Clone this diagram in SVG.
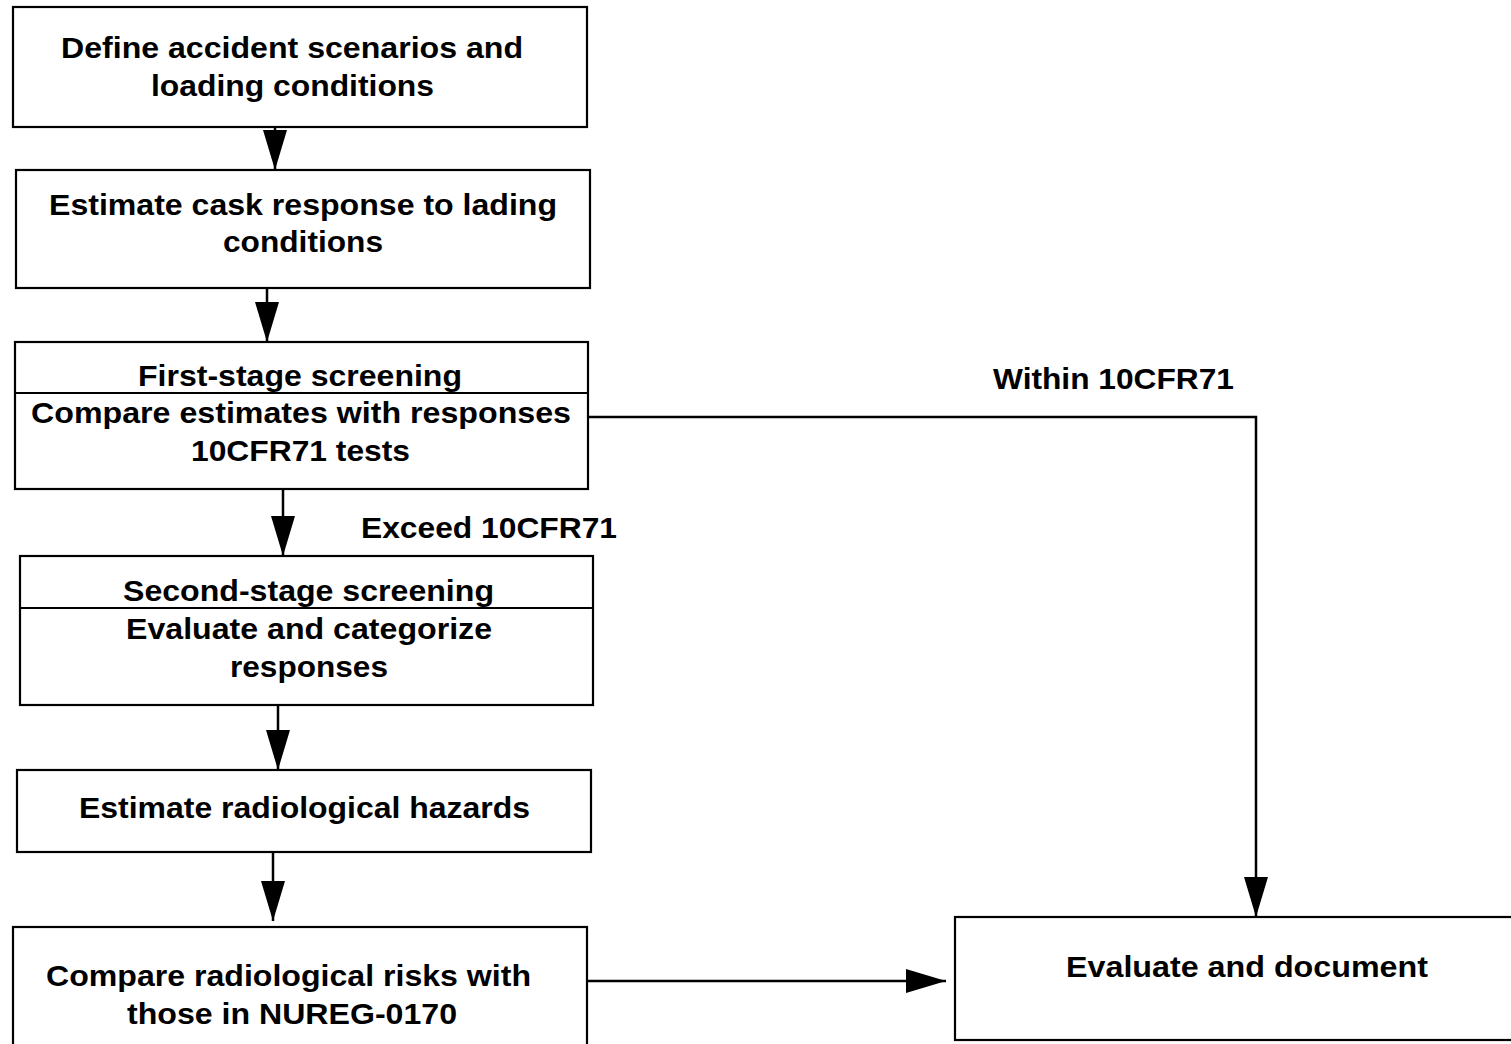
<svg xmlns="http://www.w3.org/2000/svg" width="1511" height="1044" viewBox="0 0 1511 1044">
<defs>
<style>
.box{fill:#fff;stroke:#000;stroke-width:2.2}
.div{stroke:#000;stroke-width:2}
.t{font-family:"Liberation Sans",Arial,sans-serif;font-weight:bold;font-size:30px;fill:#000;text-anchor:middle}
.lbl{font-family:"Liberation Sans",Arial,sans-serif;font-weight:bold;font-size:30px;fill:#000}
.c{fill:none;stroke:#000;stroke-width:2.5;marker-end:url(#ah)}
</style>
<marker id="ah" markerUnits="userSpaceOnUse" markerWidth="40" markerHeight="24" refX="40" refY="12" orient="auto">
<path d="M0,0 L40,12 L0,24 Z" fill="#000"/>
</marker>
</defs>
<rect width="1511" height="1044" fill="#fff"/>
<g id="connectors">
<line class="c" x1="275" y1="127" x2="275" y2="170"/>
<line class="c" x1="267" y1="288" x2="267" y2="342"/>
<line class="c" x1="283" y1="489" x2="283" y2="556"/>
<line class="c" x1="278" y1="705" x2="278" y2="770"/>
<line class="c" x1="273" y1="852" x2="273" y2="921"/>
<line class="c" x1="587" y1="981" x2="946" y2="981"/>
<polyline class="c" points="588,417 1256,417 1256,917"/>
<text class="lbl" x="361" y="538" textLength="256" lengthAdjust="spacingAndGlyphs">Exceed 10CFR71</text>
<text class="lbl" x="993" y="389" textLength="241" lengthAdjust="spacingAndGlyphs">Within 10CFR71</text>
</g>
<g id="n1">
<rect class="box" x="13" y="7" width="574" height="120"/>
<text class="t" x="292" y="58" textLength="462" lengthAdjust="spacingAndGlyphs">Define accident scenarios and</text>
<text class="t" x="292.5" y="96" textLength="283" lengthAdjust="spacingAndGlyphs">loading conditions</text>
</g>
<g id="n2">
<rect class="box" x="16" y="170" width="574" height="118"/>
<text class="t" x="303" y="215" textLength="508" lengthAdjust="spacingAndGlyphs">Estimate cask response to lading</text>
<text class="t" x="303" y="252" textLength="160" lengthAdjust="spacingAndGlyphs">conditions</text>
</g>
<g id="n3">
<rect class="box" x="15" y="342" width="573" height="147"/>
<line class="div" x1="15" y1="393" x2="588" y2="393"/>
<text class="t" x="300" y="386" textLength="324" lengthAdjust="spacingAndGlyphs">First-stage screening</text>
<text class="t" x="301" y="423" textLength="540" lengthAdjust="spacingAndGlyphs">Compare estimates with responses</text>
<text class="t" x="300.5" y="461" textLength="219" lengthAdjust="spacingAndGlyphs">10CFR71 tests</text>
</g>
<g id="n4">
<rect class="box" x="20" y="556" width="573" height="149"/>
<line class="div" x1="20" y1="608" x2="593" y2="608"/>
<text class="t" x="308.5" y="601" textLength="371" lengthAdjust="spacingAndGlyphs">Second-stage screening</text>
<text class="t" x="309" y="639" textLength="366" lengthAdjust="spacingAndGlyphs">Evaluate and categorize</text>
<text class="t" x="309" y="677" textLength="158" lengthAdjust="spacingAndGlyphs">responses</text>
</g>
<g id="n5">
<rect class="box" x="17" y="770" width="574" height="82"/>
<text class="t" x="304.5" y="818" textLength="451" lengthAdjust="spacingAndGlyphs">Estimate radiological hazards</text>
</g>
<g id="n6">
<rect class="box" x="13" y="927" width="574" height="130"/>
<text class="t" x="288.5" y="986" textLength="485" lengthAdjust="spacingAndGlyphs">Compare radiological risks with</text>
<text class="t" x="292" y="1024" textLength="330" lengthAdjust="spacingAndGlyphs">those in NUREG-0170</text>
</g>
<g id="n7">
<rect class="box" x="955" y="917" width="565" height="123"/>
<text class="t" x="1247" y="977" textLength="362" lengthAdjust="spacingAndGlyphs">Evaluate and document</text>
</g>
</svg>
